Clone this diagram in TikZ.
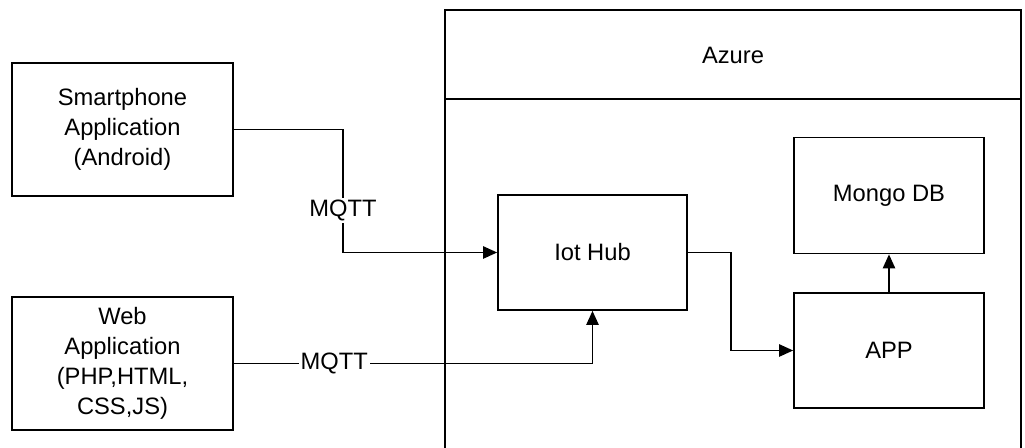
\documentclass[tikz,border=0pt]{standalone}
\usepackage{fontspec}
\setmainfont{Liberation Sans}
\usepackage{tikz}
\usetikzlibrary{arrows.meta, calc}

\begin{document}
\begin{tikzpicture}[
    x=0.02cm, y=-0.02cm,
    every node/.style={font=\fontsize{13.5}{17}\selectfont, align=center},
    box/.style={rectangle, draw, line width=1pt, inner sep=0pt},
    lbl/.style={fill=white, inner sep=1pt},
    arrow/.style={-{Triangle[length=8pt, width=7pt]}, line width=1pt}
]
\useasboundingbox (0,0) rectangle (1025,448);

% Azure container
\draw[line width=1pt] (445,460) -- (445,10) -- (1021,10) -- (1021,460);
\draw[line width=1pt] (445,99) -- (1021,99);
\node (azure) at (733,55) {Azure};

% Clients
\node[box, minimum width=4.42cm, minimum height=2.66cm] (phone) at (122.5,129.5)
    {Smartphone\\Application\\(Android)};
\node[box, minimum width=4.42cm, minimum height=2.66cm] (web) at (122.5,363.5)
    {Web\\Application\\(PHP,HTML,\\CSS,JS)};

% Cloud side
\node[box, minimum width=3.78cm, minimum height=2.3cm] (iot) at (592.5,252.5) {Iot Hub};
\node[box, minimum width=3.8cm, minimum height=2.32cm] (mongo) at (889,195.5) {Mongo DB};
\node[box, minimum width=3.8cm, minimum height=2.3cm] (app) at (889,350.5) {APP};

% Connectors
\coordinate (phonebend) at (343,129.5);
\coordinate (iotbend) at (731,252.5);
\draw[arrow] (phone.east) -- (phonebend) |- node[pos=0.33, lbl] {MQTT} (iot.west);
\draw[arrow] (web.east) -| node[pos=0.14, lbl] {MQTT} (iot.south);
\draw[arrow] (iot.east) -- (iotbend) |- (app.west);
\draw[arrow] (app.north) -- (mongo.south);

\end{tikzpicture}
\end{document}
